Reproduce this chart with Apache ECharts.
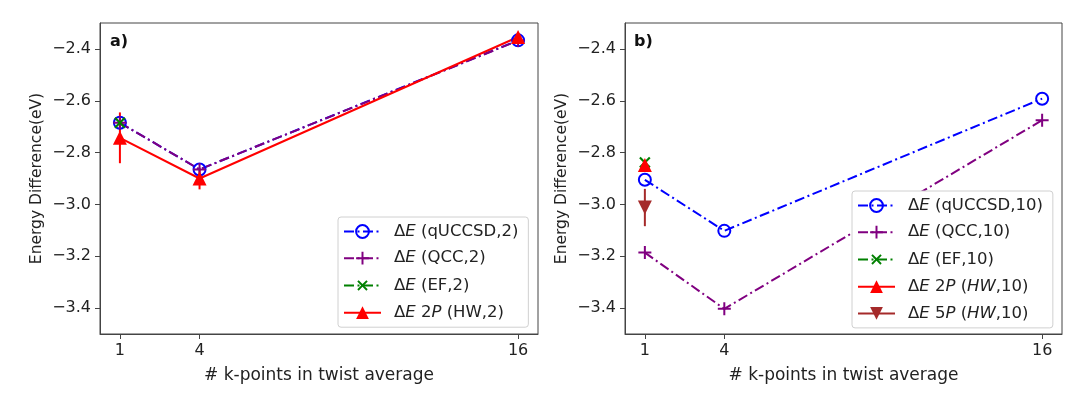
<!DOCTYPE html>
<html>
<head>
<meta charset="utf-8">
<script src="https://cdn.jsdelivr.net/npm/echarts@6/dist/echarts.min.js"></script>
<style>html,body{margin:0;padding:0;background:#fff}#c{width:1080px;height:395px}</style>
</head>
<body>
<div id="c"></div>
<script>
// ---- data ----
const kPoints = [1, 4, 16];
const xTicks = [1, 4, 16];
const yTicks = [-3.4, -3.2, -3.0, -2.8, -2.6, -2.4];

// panel a (active space 2)
const quccsd2 = [-2.685, -2.865, -2.367];
const qcc2 = [-2.685, -2.865, -2.368];
const ef2 = [-2.685];
const hw2 = [-2.743, -2.900, -2.354];
const hw2Err = [0.098, 0.042, 0.012];

// panel b (active space 10)
const quccsd10 = [-2.905, -3.102, -2.592];
const qcc10 = [-3.186, -3.403, -2.675];
const ef10 = [-2.838];
const hw2p10 = [-2.848];
const hw5p10 = [-3.012];
const hw5p10Err = [0.072];

const names = {
  qa: 'ΔE (qUCCSD,2)', ca: 'ΔE (QCC,2)', ea: 'ΔE (EF,2)', ha: 'ΔE 2P (HW,2)',
  qb: 'ΔE (qUCCSD,10)', cb: 'ΔE (QCC,10)', eb: 'ΔE (EF,10)', hb: 'ΔE 2P (HW,10)', fb: 'ΔE 5P (HW,10)'
};
const legendRich = {};
legendRich[names.qa] = '{d|Δ}{i|E}{n| (qUCCSD,2)}';
legendRich[names.ca] = '{d|Δ}{i|E}{n| (QCC,2)}';
legendRich[names.ea] = '{d|Δ}{i|E}{n| (EF,2)}';
legendRich[names.ha] = '{d|Δ}{i|E}{n| 2}{i|P}{n| (HW,2)}';
legendRich[names.qb] = '{d|Δ}{i|E}{n| (qUCCSD,10)}';
legendRich[names.cb] = '{d|Δ}{i|E}{n| (QCC,10)}';
legendRich[names.eb] = '{d|Δ}{i|E}{n| (EF,10)}';
legendRich[names.hb] = '{d|Δ}{i|E}{n| 2}{i|P}{n| (}{i|HW}{n|,10)}';
legendRich[names.fb] = '{d|Δ}{i|E}{n| 5}{i|P}{n| (}{i|HW}{n|,10)}';

// ---- styling ----
const BLUE = '#0000ff', PURPLE = '#800080', GREEN = '#008000', RED = '#ff0000', BROWN = '#a52a2a';
const FONT = 'DejaVu Sans';
const DASHDOT = [10, 3.5, 2, 3.5];
const PLUS = 'path://M5.5,0h2v5.5h5.5v2h-5.5v5.5h-2v-5.5h-5.5v-2h5.5z';
const LFS = 16.5;

function zip(xs, ys) { return ys.map((y, i) => [xs[i], y]); }
function errData(xs, ys, es) { return ys.map((y, i) => [xs[i], y - es[i], y + es[i]]); }

function lineSeries(name, vals, color, dash, symbol, size, gi, extra) {
  const s = {
    name: name, type: 'line', xAxisIndex: gi, yAxisIndex: gi,
    data: zip(kPoints, vals), symbol: symbol, symbolSize: size, showSymbol: true,
    lineStyle: { color: color, width: 2, type: dash },
    itemStyle: { color: color, borderWidth: 0 },
    emphasis: { disabled: true }, animation: false, z: 2
  };
  return Object.assign(s, extra || {});
}
function circleSeries(name, vals, gi) {
  return lineSeries(name, vals, BLUE, DASHDOT, 'circle', 12, gi, {
    itemStyle: { color: 'rgba(255,255,255,0)', borderColor: BLUE, borderWidth: 2 }
  });
}
function errSeries(xs, ys, es, color, gi) {
  return {
    type: 'custom', xAxisIndex: gi, yAxisIndex: gi, animation: false, z: 2,
    data: errData(xs, ys, es), encode: { x: 0, y: [1, 2] },
    renderItem: function (params, api) {
      const x = api.value(0);
      const p1 = api.coord([x, api.value(1)]);
      const p2 = api.coord([x, api.value(2)]);
      return { type: 'line', shape: { x1: p1[0], y1: p1[1], x2: p2[0], y2: p2[1] },
        style: { stroke: color, lineWidth: 2 } };
    }
  };
}

function xAxis(gi) {
  return {
    type: 'value', gridIndex: gi, min: 0.25, max: 16.75,
    name: '# k-points in twist average', nameLocation: 'middle', nameGap: 33,
    nameTextStyle: { fontFamily: FONT, fontSize: 17, color: '#222' },
    axisLine: { show: true, lineStyle: { color: '#444', width: 1 } },
    axisTick: { show: true, length: 5, lineStyle: { color: '#444' }, customValues: xTicks },
    axisLabel: { fontFamily: FONT, fontSize: 16, color: '#222', margin: 9, customValues: xTicks },
    splitLine: { show: false }
  };
}
function yAxis(gi) {
  return {
    type: 'value', gridIndex: gi, min: -3.5, max: -2.3,
    name: 'Energy Difference(eV)', nameLocation: 'middle', nameGap: 55, nameRotate: 90,
    nameTextStyle: { fontFamily: FONT, fontSize: 15.5, color: '#222' },
    axisLine: { show: true, lineStyle: { color: '#444', width: 1 } },
    axisTick: { show: true, length: 5, lineStyle: { color: '#444' }, customValues: yTicks },
    axisLabel: { fontFamily: FONT, fontSize: 16, color: '#222', margin: 9, customValues: yTicks,
      formatter: v => (v < 0 ? '\u2212' : '') + Math.abs(v).toFixed(1) },
    splitLine: { show: false }
  };
}
function legend(list, left, top) {
  return {
    data: list, orient: 'vertical', left: left, top: top,
    itemWidth: 37, itemHeight: 16, itemGap: 9.7, padding: [6, 10, 6, 5],
    backgroundColor: '#fff', borderColor: '#d0d0d0', borderWidth: 1, borderRadius: 3,
    selectedMode: false,
    formatter: n => legendRich[n],
    textStyle: {
      fontFamily: FONT, fontSize: LFS, color: '#222',
      rich: {
        d: { fontFamily: FONT, fontSize: LFS, color: '#222', padding: [0, 0, 0, 8], lineHeight: 19 },
        i: { fontFamily: FONT, fontSize: LFS, color: '#222', fontStyle: 'italic', lineHeight: 19 },
        n: { fontFamily: FONT, fontSize: LFS, color: '#222', lineHeight: 19 }
      }
    }
  };
}

const option = {
  animation: false,
  backgroundColor: '#fff',
  title: [
    { text: 'a)', left: 110, top: 34, padding: 0, textStyle: { fontFamily: FONT, fontSize: 16, fontWeight: 'bold', color: '#111' } },
    { text: 'b)', left: 634, top: 34, padding: 0, textStyle: { fontFamily: FONT, fontSize: 16, fontWeight: 'bold', color: '#111' } }
  ],
  grid: [
    { left: 100, top: 23, width: 438, height: 311, show: true, borderColor: '#444', borderWidth: 1, backgroundColor: 'transparent' },
    { left: 625, top: 23, width: 437, height: 311, show: true, borderColor: '#444', borderWidth: 1, backgroundColor: 'transparent' }
  ],
  xAxis: [xAxis(0), xAxis(1)],
  yAxis: [yAxis(0), yAxis(1)],
  legend: [
    legend([names.qa, names.ca, names.ea, names.ha], 338, 217),
    legend([names.qb, names.cb, names.eb, names.hb, names.fb], 852, 191)
  ],
  series: [
    circleSeries(names.qa, quccsd2, 0),
    lineSeries(names.ca, qcc2, PURPLE, DASHDOT, PLUS, 13, 0),
    lineSeries(names.ea, ef2, GREEN, DASHDOT, PLUS, 14, 0, { symbolRotate: 45 }),
    errSeries(kPoints, hw2, hw2Err, RED, 0),
    lineSeries(names.ha, hw2, RED, 'solid', 'triangle', 14, 0),

    circleSeries(names.qb, quccsd10, 1),
    lineSeries(names.cb, qcc10, PURPLE, DASHDOT, PLUS, 13, 1),
    lineSeries(names.eb, ef10, GREEN, DASHDOT, PLUS, 14, 1, { symbolRotate: 45 }),
    lineSeries(names.hb, hw2p10, RED, 'solid', 'triangle', 14, 1),
    errSeries(kPoints, hw5p10, hw5p10Err, BROWN, 1),
    lineSeries(names.fb, hw5p10, BROWN, 'solid', 'triangle', 14, 1, { symbolRotate: 180 })
  ]
};
const chart = echarts.init(document.getElementById('c'), null, { renderer: 'canvas' });
chart.setOption(option);
</script>
</body>
</html>
